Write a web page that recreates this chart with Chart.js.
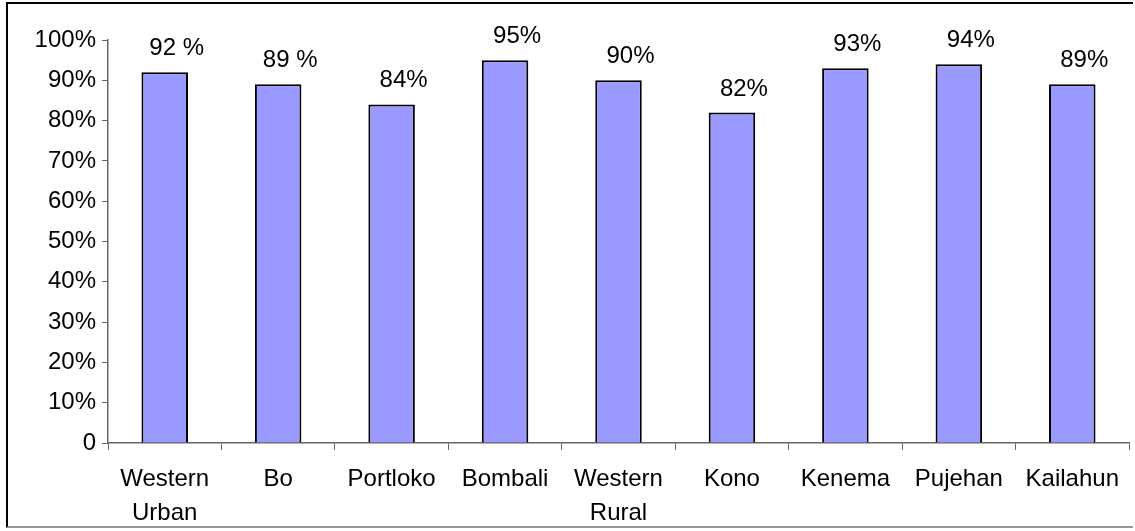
<!DOCTYPE html>
<html>
<head>
<meta charset="utf-8">
<script src="https://cdn.jsdelivr.net/npm/chart.js@4/dist/chart.umd.min.js"></script>
<style>
  html, body { margin: 0; padding: 0; background: #fff; }
  #frame {
    position: absolute; left: 6px; top: 2px;
    width: 1127px; height: 526px;
    border: 2px solid #000; border-bottom-color: #999; border-right: none;
    box-sizing: border-box;
  }
  #wrap { position: absolute; left: 0; top: 0; width: 1135px; height: 531px; }
</style>
</head>
<body>
<div id="frame"></div>
<div id="wrap"><canvas id="chart" width="1135" height="531"></canvas></div>
<script>
const districts = [
  ["Western", "Urban"], "Bo", "Portloko", "Bombali", ["Western", "Rural"],
  "Kono", "Kenema", "Pujehan", "Kailahun"
];
const coverage = [92, 89, 84, 95, 90, 82, 93, 94, 89];
const valueLabels = ["92 %", "89 %", "84%", "95%", "90%", "82%", "93%", "94%", "89%"];
const yTicks = [0, 10, 20, 30, 40, 50, 60, 70, 80, 90, 100];

const FONT = "'Liberation Sans', Arial, sans-serif";

// Excel-style value labels sitting above each bar, nudged a little right.
const barLabels = {
  id: "barLabels",
  afterDatasetsDraw(chart) {
    const ctx = chart.ctx;
    const meta = chart.getDatasetMeta(0);
    ctx.save();
    ctx.font = "24px " + FONT;
    ctx.fillStyle = "#000";
    ctx.textAlign = "center";
    ctx.textBaseline = "alphabetic";
    meta.data.forEach((bar, i) => {
      ctx.fillText(valueLabels[i], bar.x + 12, bar.y - 17);
    });
    ctx.restore();
  }
};

new Chart(document.getElementById("chart"), {
  type: "bar",
  data: {
    labels: districts,
    datasets: [
      {
        data: coverage,
        backgroundColor: "#9999FF",
        borderColor: "#000",
        borderWidth: 2,
        categoryPercentage: 1,
        barPercentage: 0.41
      }
    ]
  },
  options: {
    responsive: false,
    animation: false,
    devicePixelRatio: 1,
    layout: { padding: { top: 40, right: 6, left: 0, bottom: 0 } },
    plugins: {
      legend: { display: false },
      tooltip: { enabled: false }
    },
    scales: {
      x: {
        grid: {
          display: true,
          drawOnChartArea: false,
          drawTicks: true,
          tickLength: 7,
          color: "#666",
          offset: true
        },
        border: { display: true, color: "#666", width: 1.5 },
        ticks: {
          color: "#000",
          font: { family: FONT, size: 24, lineHeight: 1.4 },
          padding: 13,
          maxRotation: 0,
          autoSkip: false
        },
        afterFit(scale) { scale.height = 88; }
      },
      y: {
        min: 0,
        max: 100,
        afterBuildTicks(scale) {
          scale.ticks = yTicks.map(v => ({ value: v }));
        },
        grid: {
          display: true,
          drawOnChartArea: false,
          drawTicks: true,
          tickLength: 6,
          color: "#666"
        },
        border: { display: true, color: "#666", width: 1.5 },
        ticks: {
          color: "#000",
          font: { family: FONT, size: 24 },
          padding: 6,
          callback: v => (v === 0 ? "0" : v + "%")
        },
        afterFit(scale) { scale.width = 108; }
      }
    }
  },
  plugins: [barLabels]
});
</script>
</body>
</html>
